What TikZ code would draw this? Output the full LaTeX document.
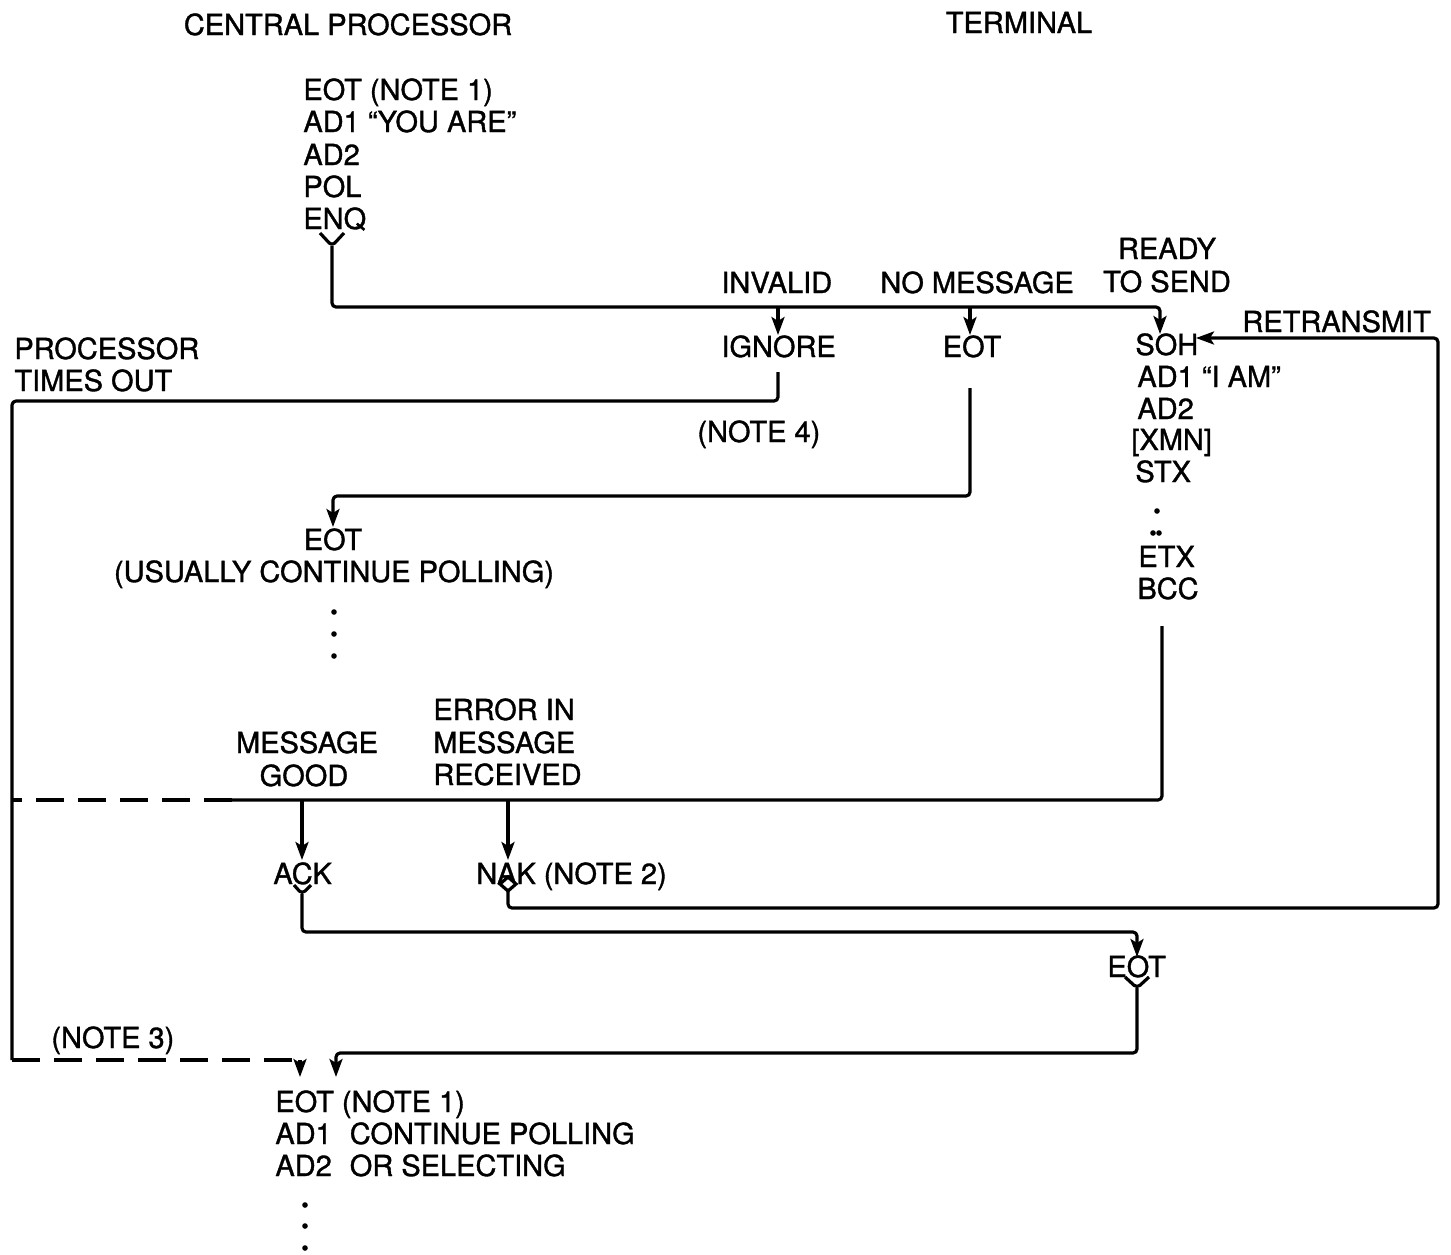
\documentclass[tikz,border=0pt]{standalone}
\usepackage{fontspec}
\setmainfont{TeX Gyre Heros}[FakeBold=1.2]
\usetikzlibrary{arrows.meta}
\begin{document}
\begin{tikzpicture}[x=0.5pt,y=-0.5pt,
  txt/.style={anchor=base west, inner sep=0pt, font=\fontsize{14.5}{17}\selectfont},
  ctxt/.style={anchor=base, inner sep=0pt, font=\fontsize{14.5}{17}\selectfont},
  line/.style={line width=1.6pt, line join=round, rounded corners=2pt},
  arr/.style={line, -{Stealth[length=9pt,width=6.5pt,inset=2pt]}},
  dashline/.style={line width=1.6pt, dash pattern=on 14pt off 7pt},
  dot/.style={fill=black}]
\useasboundingbox (0,0) rectangle (1451,1254);
\fill[white] (0,0) rectangle (1451,1254);

% headings
\node[ctxt] (cp) at (348,35) {CENTRAL PROCESSOR};
\node[ctxt] (term) at (1019,33) {TERMINAL};

% first block
\node[txt] (b1a) at (303,100) {EOT (NOTE 1)};
\node[txt] (b1b) at (303,132) {AD1 “YOU ARE”};
\node[txt] (b1c) at (303,165) {AD2};
\node[txt] (b1d) at (303,197) {POL};
\node[txt] (enq) at (303,229) {ENQ};

% branch labels
\node[txt] (invalid) at (721,293) {INVALID};
\node[txt] (nomsg) at (880,293) {NO MESSAGE};
\node[ctxt] (ready) at (1167,259) {READY};
\node[ctxt] (tosend) at (1167,292) {TO SEND};

\node[txt] (ignore) at (721,357) {IGNORE};
\node[ctxt] (eot1) at (972,357) {EOT};

% terminal message
\node[txt] (soh) at (1135,355) {SOH};
\node[txt] (sohb) at (1137,387) {AD1 “I AM”};
\node[txt] (sohc) at (1137,419) {AD2};
\node[txt] (sohd) at (1131,450) {[XMN]};
\node[txt] (sohe) at (1135,482) {STX};
\node[txt] (etx) at (1138,567) {ETX};
\node[txt] (bcc) at (1137,599) {BCC};
\fill[dot] (1157,511) circle (1.4pt);
\fill[dot] (1153,533) circle (1.4pt);
\fill[dot] (1159,533) circle (1.4pt);

\node[txt] (retrans) at (1242,332) {RETRANSMIT};
\node[txt] (proc) at (14,359) {PROCESSOR};
\node[txt] (times) at (14,391) {TIMES OUT};
\node[txt] (note4) at (697,442) {(NOTE 4)};

\node[ctxt] (eot2) at (333,550) {EOT};
\node[ctxt] (usually) at (334,582) {(USUALLY CONTINUE POLLING)};
\fill[dot] (334,612) circle (1.4pt);
\fill[dot] (334,634) circle (1.4pt);
\fill[dot] (334,656) circle (1.4pt);

\node[ctxt] (msg1) at (307,753) {MESSAGE};
\node[ctxt] (good) at (304,786) {GOOD};
\node[txt] (err1) at (433,720) {ERROR IN};
\node[txt] (err2) at (433,753) {MESSAGE};
\node[txt] (err3) at (433,785) {RECEIVED};

\node[txt] (ack) at (273,884) {ACK};
\node[txt] (nak) at (476,884) {NAK (NOTE 2)};
\node[txt] (eot3) at (1107,977) {EOT};
\node[txt] (note3) at (51,1048) {(NOTE 3)};

\node[txt] (f1) at (275,1112) {EOT (NOTE 1)};
\node[txt] (f2) at (275,1144) {AD1\hspace{9pt}CONTINUE POLLING};
\node[txt] (f3) at (275,1176) {AD2\hspace{9pt}OR SELECTING};
\fill[dot] (305,1205) circle (1.4pt);
\fill[dot] (305,1226) circle (1.4pt);
\fill[dot] (305,1248) circle (1.4pt);

% coordinates
\coordinate (enqfork) at (332,246);
\coordinate (bus1end) at (1160,307);
\coordinate (sohin) at (1160,334);
\coordinate (ignbus) at (778,307);
\coordinate (ignin) at (778,335);
\coordinate (eotbus) at (970,307);
\coordinate (eotin) at (970,335);
\coordinate (ignout) at (778,372);
\coordinate (leftturn) at (12,401);
\coordinate (leftbot) at (12,1060);
\coordinate (deadin) at (300,1077);
\coordinate (eot1out) at (970,388);
\coordinate (eot2in) at (333,527);
\coordinate (bccout) at (1162,626);
\coordinate (bus2end) at (1162,800);
\coordinate (dashjoin) at (232,800);
\coordinate (dashleft) at (12,800);
\coordinate (ackbus) at (302,800);
\coordinate (ackin) at (302,860);
\coordinate (nakbus) at (508,800);
\coordinate (nakin) at (508,860);
\coordinate (ackfork) at (302,894);
\coordinate (eot3in) at (1137,957);
\coordinate (nakdia) at (508,891);
\coordinate (retcorner) at (1438,908);
\coordinate (sohright) at (1196,338);
\coordinate (eot3fork) at (1137,988);
\coordinate (finalin) at (336,1077);

% ENQ poll
\draw[line] (320,233) -- (enqfork) -- (344,233);
\draw[arr] (enqfork) |- (bus1end) -- (sohin);
\draw[arr] (ignbus) -- (ignin);
\draw[arr] (eotbus) -- (eotin);

% ignore -> time out
\draw[line] (ignout) |- (leftturn) -- (leftbot);
\draw[dashline] (leftbot) -- (300,1060);
\draw[arr] (300,1060) -- (deadin);

% no message
\draw[arr] (eot1out) |- (333,496) -- (eot2in);

% message sent
\draw[line] (bccout) -- (bus2end) -- (dashjoin);
\draw[dashline] (dashjoin) -- (dashleft);
\draw[arr] (ackbus) -- (ackin);
\draw[arr] (nakbus) -- (nakin);

% ACK
\draw[line] (294,885) -- (ackfork) -- (311,885);
\draw[arr] (ackfork) |- (1137,932) -- (eot3in);

% NAK retransmit
\draw[line width=1.6pt, line join=miter, fill=white] (508,877) -- (516,884) -- (nakdia) -- (500,884) -- cycle;
\draw[arr] (nakdia) |- (retcorner) |- (sohright);

% EOT -> final
\draw[line] (1125,977) -- (eot3fork) -- (1149,977);
\draw[arr] (eot3fork) |- (336,1053) -- (finalin);
\end{tikzpicture}
\end{document}
